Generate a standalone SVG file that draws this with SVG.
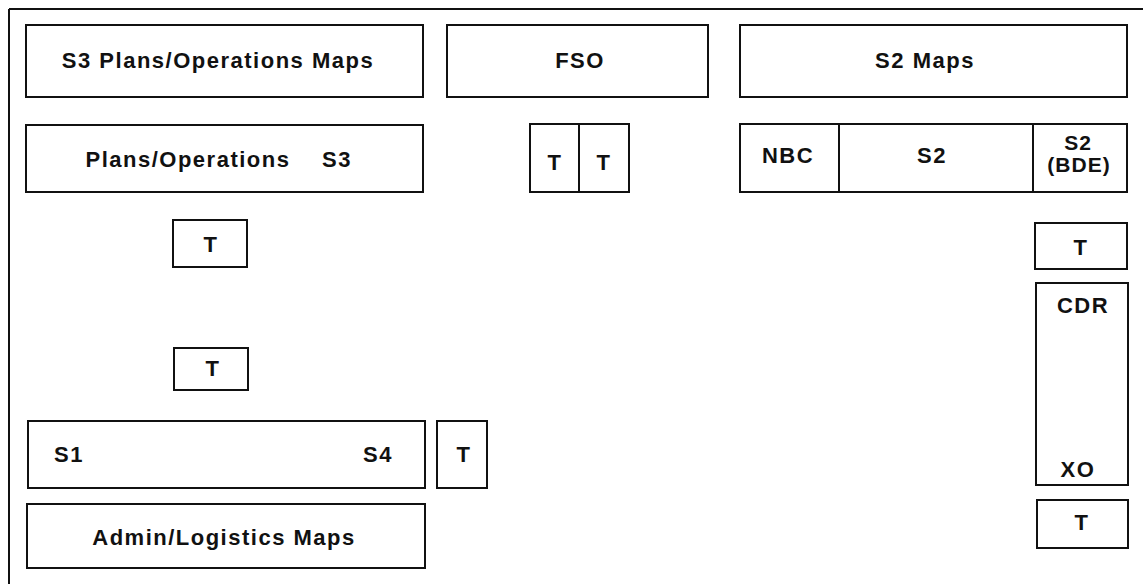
<svg xmlns="http://www.w3.org/2000/svg" width="1143" height="584" viewBox="0 0 1143 584">
<style>
rect{fill:#fff;stroke:#111;stroke-width:2}
line{stroke:#111;stroke-width:2}
text{font-family:"Liberation Sans",Arial,sans-serif;font-weight:bold;font-size:22px;letter-spacing:1.5px;fill:#111;text-anchor:middle}
.sm{font-size:21px;letter-spacing:1px}
</style>
<g id="frame"><line x1="9" y1="9" x2="1143" y2="9"/><line x1="9" y1="9" x2="9" y2="584"/></g>
<g id="s3maps"><rect x="26" y="25" width="397" height="72"/><text x="218" y="68">S3 Plans/Operations Maps</text></g>
<g id="fso"><rect x="447" y="25" width="261" height="72"/><text x="580" y="68">FSO</text></g>
<g id="s2maps"><rect x="740" y="25" width="387" height="72"/><text x="925" y="68">S2 Maps</text></g>
<g id="plans"><rect x="26" y="125" width="397" height="67"/><text x="188" y="167">Plans/Operations</text><text x="337" y="167">S3</text></g>
<g id="fsoT"><rect x="530" y="124" width="99" height="68"/><line x1="579" y1="124" x2="579" y2="192"/><text x="555" y="170">T</text><text x="604" y="170">T</text></g>
<g id="s2row"><rect x="740" y="124" width="387" height="68"/><line x1="839" y1="124" x2="839" y2="192"/><line x1="1033" y1="124" x2="1033" y2="192"/><text x="788" y="163">NBC</text><text x="932" y="163">S2</text><text class="sm" x="1078" y="150">S2</text><text class="sm" x="1079" y="172">(BDE)</text></g>
<g id="t1"><rect x="173" y="220" width="74" height="47"/><text x="211" y="252">T</text></g>
<g id="t2"><rect x="174" y="348" width="74" height="42"/><text x="213" y="376">T</text></g>
<g id="s1s4"><rect x="28" y="421" width="397" height="67"/><text x="69" y="462">S1</text><text x="378" y="462">S4</text></g>
<g id="t3"><rect x="437" y="421" width="50" height="67"/><text x="464" y="462">T</text></g>
<g id="admin"><rect x="27" y="504" width="398" height="64"/><text x="224" y="545">Admin/Logistics Maps</text></g>
<g id="t4"><rect x="1035" y="223" width="92" height="46"/><text x="1081" y="255">T</text></g>
<g id="cdr"><rect x="1036" y="283" width="92" height="202"/><text x="1083" y="313">CDR</text><text x="1078" y="477">XO</text></g>
<g id="t5"><rect x="1037" y="500" width="91" height="48"/><text x="1082" y="530">T</text></g>
<g id="connectors"/>
</svg>
